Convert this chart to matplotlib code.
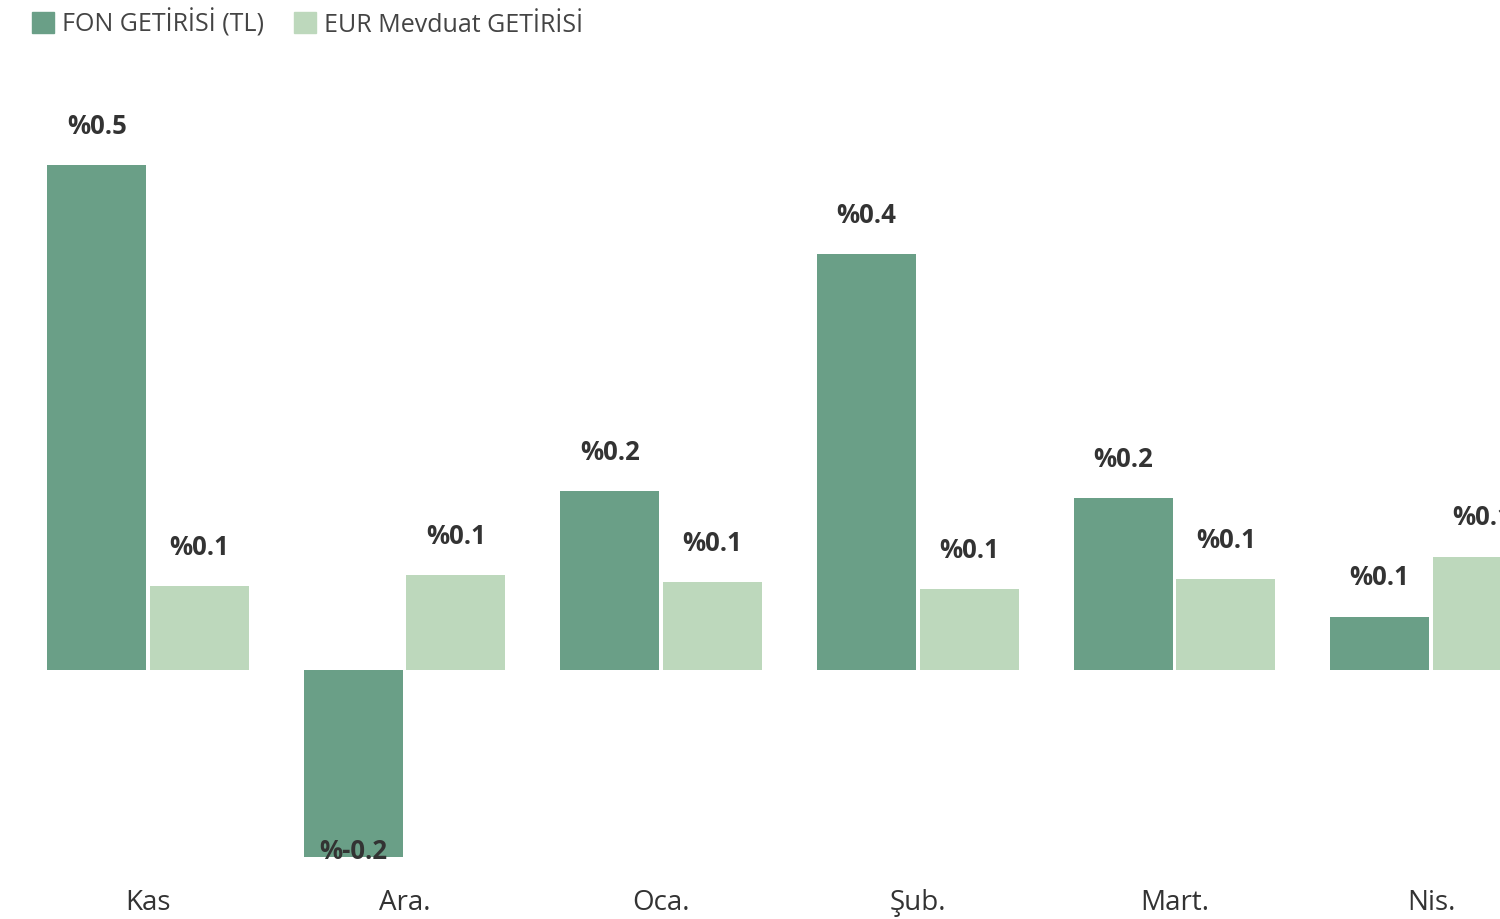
import numpy as np
import matplotlib.pyplot as plt
from matplotlib.patches import Patch
from matplotlib.transforms import blended_transform_factory

plt.rcParams['font.family'] = ['Open Sans', 'DejaVu Sans']

# data
months = ['Kas', 'Ara.', 'Oca.', 'Şub.', 'Mart.', 'Nis.']
fon = [0.500, -0.185, 0.177, 0.412, 0.170, 0.053]
eur = [0.083, 0.094, 0.087, 0.080, 0.090, 0.112]

dark = '#6a9f87'
light = '#bdd8bc'
txt = '#333333'

fig = plt.figure(figsize=(15, 9.2), dpi=100)
ax = fig.add_axes([0, 0, 1, 1])

x = np.arange(len(months))
w = 0.386
off = 0.2
ax.bar(x - off, fon, width=w, color=dark, edgecolor='none')
ax.bar(x + off, eur, width=w, color=light, edgecolor='none')

# value labels
for xi, v in zip(x - off, fon):
    if v >= 0:
        ax.text(xi, v + 0.0396, f'%{v:.1f}', ha='center', va='center',
                fontsize=18.5, fontweight='bold', color=txt)
    else:
        ax.text(xi, v + 0.006, f'%{v:.1f}', ha='center', va='center',
                fontsize=18.5, fontweight='bold', color=txt)
for xi, v in zip(x + off, eur):
    ax.text(xi, v + 0.0396, f'%{v:.1f}', ha='center', va='center',
            fontsize=18.5, fontweight='bold', color=txt)

# month labels under the bars
tr = blended_transform_factory(ax.transData, ax.transAxes)
for xi, m in zip(x, months):
    ax.text(xi, 0.019, m, transform=tr, ha='center', va='center',
            fontsize=20, color=txt)

ax.set_xlim(-0.577, 5.269)
ax.set_ylim(-0.2465, 0.6645)
ax.axis('off')

handles = [Patch(color=dark, label='FON GETİRİSİ (TL)'),
           Patch(color=light, label='EUR Mevduat GETİRİSİ')]
fig.legend(handles=handles, loc='upper left', bbox_to_anchor=(0.006, 1.014),
           ncol=2, frameon=False, fontsize=18, handlelength=0.9,
           handleheight=0.9, handletextpad=0.3, columnspacing=1.2,
           labelcolor='#444444')

fig.savefig('out.png', dpi=100)
